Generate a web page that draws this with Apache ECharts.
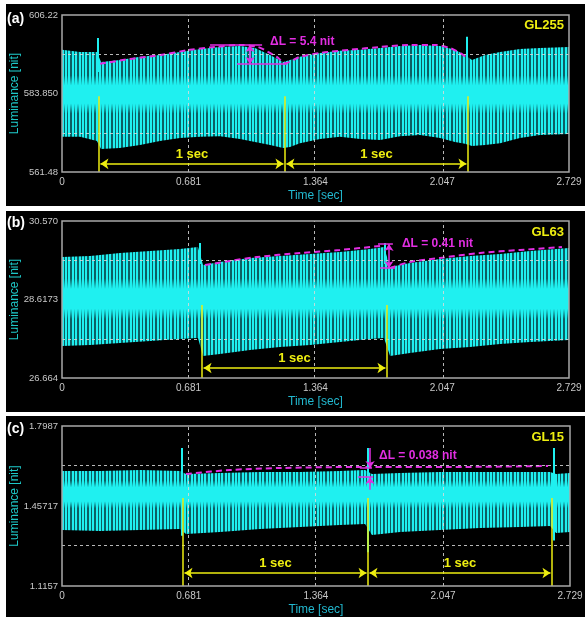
<!DOCTYPE html>
<html>
<head>
<meta charset="UTF-8">
<title>Luminance vs time</title>
<script src="https://cdn.jsdelivr.net/npm/echarts@6/dist/echarts.min.js"></script>
<style>
  html, body { margin: 0; background: #fff; }
  #chart { width: 585px; height: 617px; }
</style>
</head>
<body>
<div id="chart"></div>
<script>
// shared time axis [sec]
const timeTicks = [0, 0.681, 1.364, 2.047, 2.729];
const timeMax = 2.729;

// (a) GL255
const aRange = [561.48, 606.22];
const aTickLabels = ['561.48', '583.850', '606.22'];
const aTime = [0, 0.097, 0.188, 0.210, 0.312, 0.420, 0.527, 0.635, 0.743, 0.850, 0.958, 1.039, 1.120, 1.190, 1.227, 1.281,
  1.389, 1.496, 1.604, 1.712, 1.819, 1.927, 2.035, 2.115, 2.169, 2.207, 2.277, 2.358, 2.465, 2.573, 2.729];
const aUpper = [596.3, 595.7, 595.7, 592.8, 593.4, 594.3, 594.8, 595.7, 596.5, 597.1, 597.4, 596.8, 594.8, 592.8, 593.4, 594.3,
  595.4, 596.0, 596.3, 596.8, 597.4, 597.7, 597.4, 596.3, 594.8, 593.4, 594.8, 595.7, 596.5, 596.8, 597.1];
const aLower = [571.5, 571.5, 570.3, 568.0, 568.3, 569.2, 570.3, 571.2, 571.5, 571.7, 570.9, 570.0, 569.2, 568.3, 568.6, 569.7,
  570.9, 571.5, 570.9, 570.6, 571.7, 572.0, 571.2, 570.0, 569.5, 568.9, 569.2, 569.7, 571.2, 572.0, 572.3];
const aSpikes = [[0.194, 590.0, 599.7], [2.180, 590.0, 600.0]];   // [t, from, to]
const aMarkers = [0.199, 1.200, 2.185];
const aMarkerTop = 583.1;
const aArrowLevel = 563.8;
const aEnvelope = [[0.205, 592.3], [0.366, 593.7], [0.527, 594.8], [0.689, 596.3], [0.824, 597.1], [0.958, 597.7],
  [1.055, 597.1], [1.109, 595.7], [1.163, 594.0], [1.200, 592.5], [1.281, 594.3], [1.389, 595.4], [1.550, 596.3],
  [1.712, 597.1], [1.873, 597.7], [2.008, 597.7], [2.088, 596.8], [2.153, 595.1], [2.180, 594.0]];
const aDeltaTop = [0.797, 1.077, 597.67];      // [t0, t1, level]
const aDeltaBottom = [0.942, 1.211, 592.26];
const aDeltaAt = 1.012;
const aDeltaText = [1.120, 598.5, 'ΔL = 5.4 nit'];

// (b) GL63
const bRange = [26.664, 30.570];
const bTickLabels = ['26.664', '28.6173', '30.570'];
const bTime = [0, 0.151, 0.312, 0.474, 0.635, 0.732, 0.759, 0.850, 1.012, 1.173, 1.335, 1.496, 1.658, 1.733, 1.766, 1.873,
  2.035, 2.196, 2.358, 2.519, 2.729];
const bUpper = [29.674, 29.699, 29.774, 29.824, 29.873, 29.923, 29.475, 29.550, 29.650, 29.699, 29.749, 29.799, 29.873,
  29.923, 29.426, 29.525, 29.625, 29.699, 29.749, 29.824, 29.898];
const bLower = [27.460, 27.485, 27.535, 27.585, 27.634, 27.659, 27.211, 27.261, 27.361, 27.435, 27.485, 27.560, 27.634,
  27.659, 27.211, 27.286, 27.385, 27.435, 27.510, 27.560, 27.609];
const bSpikes = [[0.743, 29.5, 30.023], [1.739, 29.5, 30.023]];
const bMarkers = [0.754, 1.749];
const bMarkerTop = 28.48;
const bArrowLevel = 26.913;
const bEnvelopeLeft = [[0.770, 29.475], [0.904, 29.575], [1.050, 29.674], [1.281, 29.774], [1.496, 29.849], [1.712, 29.948]];
const bEnvelopeRight = [[1.766, 29.401], [1.873, 29.550], [2.035, 29.650], [2.250, 29.774], [2.465, 29.849], [2.691, 29.923]];
const bDeltaTop = [1.701, 1.781, 29.998];
const bDeltaBottom = [1.712, 1.792, 29.401];
const bDeltaAt = 1.760;
const bDeltaText = [1.830, 29.998, 'ΔL = 0.41 nit'];

// (c) GL15
const cRange = [1.1157, 1.7987];
const cTickLabels = ['1.1157', '1.45717', '1.7987'];
const cTime = [0, 0.204, 0.419, 0.634, 0.666, 0.849, 1.064, 1.279, 1.493, 1.628, 1.665, 1.816, 2.031, 2.245, 2.460, 2.622,
  2.654, 2.729];
const cUpper = [1.6066, 1.6066, 1.6109, 1.6066, 1.5938, 1.5981, 1.6023, 1.6023, 1.6066, 1.6109, 1.5938, 1.5981, 1.6023,
  1.6023, 1.6023, 1.6023, 1.5938, 1.5981];
const cLower = [1.3547, 1.3505, 1.3547, 1.3590, 1.3377, 1.3462, 1.3590, 1.3676, 1.3761, 1.3804, 1.3334, 1.3462, 1.3547,
  1.3633, 1.3676, 1.3718, 1.3419, 1.3462];
const cSpikes = [[0.645, 1.33, 1.7048], [1.644, 1.26, 1.7048], [2.643, 1.31, 1.7048]];
const cMarkers = [0.650, 1.644, 2.632];
const cMarkerTop = 1.4914;
const cArrowLevel = 1.1712;
const cEnvelope = [[0.666, 1.5938], [0.903, 1.6109], [1.172, 1.6194], [1.601, 1.6237], [2.085, 1.6237], [2.611, 1.6280]];
const cDeltaTop = [1.600, 1.665, 1.6194];
const cDeltaBottom = [1.590, 1.671, 1.5810];
const cDeltaAt = 1.655;
const cDeltaReach = [1.7048, 1.5264];
const cDeltaText = [1.703, 1.6706, 'ΔL = 0.038 nit'];

const CYAN = '#1ff0f0';
const TEAL = '#0c5f63';
const YELLOW = '#eeee10';
const MAGENTA = '#e22ee2';
const LABEL_FONT = "'Liberation Sans Narrow', Arial, sans-serif";

const panels = [
  { tag: '(a)', gl: 'GL255', range: aRange, ticks: aTickLabels, time: aTime, upper: aUpper, lower: aLower,
    spikes: aSpikes, markers: aMarkers, markerTop: aMarkerTop, arrowLevel: aArrowLevel, envelopes: [aEnvelope],
    delta: { top: aDeltaTop, bottom: aDeltaBottom, at: aDeltaAt, reach: null, text: aDeltaText },
    core: [0.24, 0.32, 0.46, 0.54] },
  { tag: '(b)', gl: 'GL63', range: bRange, ticks: bTickLabels, time: bTime, upper: bUpper, lower: bLower,
    spikes: bSpikes, markers: bMarkers, markerTop: bMarkerTop, arrowLevel: bArrowLevel,
    envelopes: [bEnvelopeLeft, bEnvelopeRight],
    delta: { top: bDeltaTop, bottom: bDeltaBottom, at: bDeltaAt, reach: null, text: bDeltaText },
    core: [0.24, 0.32, 0.47, 0.55] },
  { tag: '(c)', gl: 'GL15', range: cRange, ticks: cTickLabels, time: cTime, upper: cUpper, lower: cLower,
    spikes: cSpikes, markers: cMarkers, markerTop: cMarkerTop, arrowLevel: cArrowLevel, envelopes: [cEnvelope],
    delta: { top: cDeltaTop, bottom: cDeltaBottom, at: cDeltaAt, reach: cDeltaReach, text: cDeltaText },
    core: [0.09, 0.15, 0.27, 0.33] }
];

// page layout (pixels)
const plots = [
  { left: 62, top: 15, width: 507, height: 157 },
  { left: 62, top: 221, width: 507, height: 157 },
  { left: 62, top: 426, width: 508, height: 160 }
];
const frames = [[6, 4, 579, 202], [6, 211, 579, 201], [6, 416, 579, 201]];
const tagTops = [12, 216, 422];
const glTops = [19, 226, 431];

// irregular vertical stripes used for the fast oscillation texture
const stripes = (function () {
  const w = 17;
  const c = document.createElement('canvas');
  c.width = w; c.height = 8;
  const g = c.getContext('2d');
  g.fillStyle = CYAN; g.fillRect(0, 0, w, 8);
  g.fillStyle = TEAL;
  [2, 3, 6, 9, 10, 13, 16].forEach(x => g.fillRect(x, 0, 1, 8));
  return c;
})();

const xy = (ts, vs) => ts.map((t, i) => [t, vs[i]]);
const clear = 'rgba(31,240,240,0)';

const series = [];
panels.forEach((p, k) => {
  const ax = { xAxisIndex: k, yAxisIndex: k };
  const base = Object.assign({ type: 'line', symbol: 'none', silent: true, lineStyle: { width: 0 } }, ax);
  const span = p.range[1] - p.range[0];

  // band: upper envelope filled down, lower envelope filled black on top
  series.push(Object.assign({}, base, {
    data: xy(p.time, p.upper),
    areaStyle: { origin: 'start', opacity: 1, color: { image: stripes, repeat: 'repeat' } }
  }));
  series.push(Object.assign({}, base, {
    data: xy(p.time, p.upper),
    areaStyle: { origin: 'start', opacity: 1, color: new echarts.graphic.LinearGradient(0, 0, 0, 1, [
      { offset: 0, color: clear }, { offset: p.core[0], color: clear }, { offset: p.core[1], color: CYAN },
      { offset: p.core[2], color: CYAN }, { offset: p.core[3], color: clear }, { offset: 1, color: clear }]) }
  }));
  series.push(Object.assign({}, base, {
    data: xy(p.time, p.lower),
    areaStyle: { origin: 'start', opacity: 1, color: '#000' }
  }));

  // dashed grid
  series.push(Object.assign({ type: 'line', data: [] }, ax, {
    markLine: {
      silent: true, symbol: 'none', label: { show: false },
      lineStyle: { color: '#d8d8d8', type: [3, 3], width: 1, opacity: 0.85 },
      data: [{ yAxis: p.range[0] + span / 4 }, { yAxis: p.range[0] + span * 3 / 4 }]
        .concat(timeTicks.slice(1, -1).map(t => ({ xAxis: t })))
    }
  }));

  // spikes at frame boundaries
  series.push(Object.assign({ type: 'line', data: [] }, ax, {
    markLine: {
      silent: true, symbol: 'none', label: { show: false },
      lineStyle: { color: CYAN, type: 'solid', width: 2 },
      data: p.spikes.map(s => [{ coord: [s[0], s[1]] }, { coord: [s[0], s[2]] }])
    }
  }));

  // magenta envelope
  p.envelopes.forEach(seg => {
    series.push(Object.assign({ type: 'line', data: seg, symbol: 'none', silent: true, smooth: 0.3,
      lineStyle: { color: MAGENTA, width: 2, type: [6, 4] } }, ax));
  });

  // yellow 1 sec markers
  const verticals = p.markers.map(t => [{ coord: [t, p.markerTop] }, { coord: [t, p.range[0]] }]);
  const arrows = p.markers.slice(1).map((t, i) => [
    { coord: [p.markers[i] + 0.008, p.arrowLevel], symbol: 'arrow',
      label: { show: true, formatter: '1 sec', position: 'insideMiddleTop', distance: 3,
        color: YELLOW, fontSize: 13, fontWeight: 'bold', fontFamily: 'Arial' } },
    { coord: [t - 0.008, p.arrowLevel], symbol: 'arrow' }
  ]);
  series.push(Object.assign({ type: 'line', data: [] }, ax, {
    markLine: {
      silent: true, symbol: ['none', 'none'], symbolSize: 8, label: { show: false },
      lineStyle: { color: YELLOW, type: 'solid', width: 1.5 },
      data: verticals.concat(arrows)
    }
  }));

  // delta L annotation
  const d = p.delta;
  const dLines = [
    [{ coord: [d.top[0], d.top[2]] }, { coord: [d.top[1], d.top[2]] }],
    [{ coord: [d.bottom[0], d.bottom[2]] }, { coord: [d.bottom[1], d.bottom[2]] }]
  ];
  if (d.reach) {
    dLines.push([{ coord: [d.at, d.reach[0]] }, { coord: [d.at, d.top[2]], symbol: 'arrow' }]);
    dLines.push([{ coord: [d.at, d.reach[1]] }, { coord: [d.at, d.bottom[2]], symbol: 'arrow' }]);
  } else {
    dLines.push([{ coord: [d.at, d.top[2]], symbol: 'arrow' }, { coord: [d.at, d.bottom[2]], symbol: 'arrow' }]);
  }
  series.push(Object.assign({ type: 'line', data: [] }, ax, {
    markLine: {
      silent: true, symbol: ['none', 'none'], symbolSize: 7, label: { show: false },
      lineStyle: { color: MAGENTA, type: 'solid', width: 1.5 },
      data: dLines
    },
    markPoint: {
      silent: true, symbol: 'circle', symbolSize: 0,
      data: [{ coord: [d.text[0], d.text[1]],
        label: { show: true, formatter: d.text[2], position: 'right', distance: 0,
          color: MAGENTA, fontSize: 12, fontWeight: 'bold', fontFamily: 'Arial' } }]
    }
  }));
});

const option = {
  animation: false,
  backgroundColor: '#fff',
  graphic: frames.map(f => ({ type: 'rect', z: -1, silent: true,
    shape: { x: f[0], y: f[1], width: f[2], height: f[3] }, style: { fill: '#000' } }))
    .concat(plots.map(g => ({ type: 'rect', z: 100, silent: true,
      shape: { x: g.left, y: g.top, width: g.width, height: g.height },
      style: { fill: 'none', stroke: '#a8a8a8', lineWidth: 1.5 } })))
    .concat(plots.map(g => ({ type: 'text', z: 100, silent: true, x: 15, y: g.top + g.height / 2,
      rotation: Math.PI / 2,
      style: { text: 'Luminance [nit]', fill: '#1ec8c8', font: '12px Arial', align: 'center', verticalAlign: 'middle' } }))),
  title: panels.map((p, k) => ({ text: p.tag, left: 7, top: tagTops[k], padding: 0,
      textStyle: { color: '#fff', fontSize: 14, fontWeight: 'bold', fontFamily: 'Arial' } }))
    .concat(panels.map((p, k) => ({ text: p.gl, right: 21, top: glTops[k], padding: 0,
      textStyle: { color: YELLOW, fontSize: 13, fontWeight: 'bold', fontFamily: 'Arial' } }))),
  grid: plots.map(g => Object.assign({ show: false, containLabel: false, outerBoundsMode: 'none' }, g)),
  xAxis: panels.map((p, k) => ({
    type: 'value', gridIndex: k, min: 0, max: timeMax,
    axisLine: { show: false }, axisTick: { show: false }, splitLine: { show: false },
    axisLabel: { customValues: timeTicks, formatter: v => (v === 0 ? '0' : v.toFixed(3)),
      color: '#c8c8c8', fontSize: 10, fontFamily: LABEL_FONT, margin: 5 },
    name: 'Time [sec]', nameLocation: 'middle', nameGap: 18,
    nameTextStyle: { color: '#22b8cf', fontSize: 12, fontFamily: 'Arial' }
  })),
  yAxis: panels.map((p, k) => ({
    type: 'value', gridIndex: k, min: p.range[0], max: p.range[1],
    axisLine: { show: false }, axisTick: { show: false }, splitLine: { show: false },
    axisLabel: { customValues: p.ticks.map(Number),
      formatter: v => p.ticks.find(s => Math.abs(Number(s) - v) < 1e-6) || String(v),
      color: '#c8c8c8', fontSize: 9.5, fontFamily: LABEL_FONT, margin: 4 }
  })),
  series: series
};

const chart = echarts.init(document.getElementById('chart'));
chart.setOption(option);
</script>
</body>
</html>
